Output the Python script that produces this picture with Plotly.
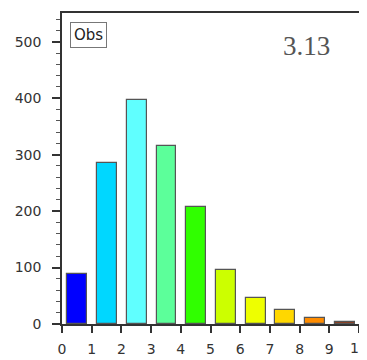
import plotly.graph_objects as go

bins = [0, 1, 2, 3, 4, 5, 6, 7, 8, 9]
counts = [88, 286, 397, 316, 208, 96, 46, 25, 10, 4]
colors = ["#0000ff", "#00d7ff", "#60ffff", "#5cff9a", "#30ff00",
          "#ccff00", "#eeff00", "#ffd700", "#ff8c00", "#9a3c18"]
x_tick_vals = [0, 1, 2, 3, 4, 5, 6, 7, 8, 9]
edge_tick_label = "10"
panel_label = "Obs"
panel_value = "3.13"

# page body has an 8px margin; compensate
W, H = 359, 352
L, R, T, B = 54, 6, 3, 34

fig = go.Figure()
fig.add_trace(go.Bar(
    x=[b + 0.52 for b in bins], y=counts, width=0.67,
    marker=dict(color=colors, line=dict(color="#555555", width=1.2)),
    showlegend=False, hoverinfo="skip"))
fig.add_trace(go.Scatter(x=[0], y=[0], yaxis="y2", mode="markers",
                         marker=dict(opacity=0), showlegend=False, hoverinfo="skip"))

font = dict(family="DejaVu Sans", size=14, color="#333333")
fig.update_layout(
    width=W, height=H, margin=dict(l=L, r=R, t=T, b=B),
    plot_bgcolor="white", paper_bgcolor="white", font=font,
    bargap=0,
    xaxis=dict(range=[0, 10], dtick=1, tick0=0, ticks="outside", ticklen=7,
               tickwidth=1.5, tickcolor="#333", showline=True, linecolor="#333",
               linewidth=1.5, mirror=True, showgrid=False, zeroline=False,
               tickfont=font, ticklabelstandoff=4),
    yaxis=dict(range=[0, 551], dtick=100, tick0=0, ticks="outside", ticklen=8,
               tickwidth=1.5, tickcolor="#333", showline=True, linecolor="#333",
               linewidth=1.5, showgrid=False, zeroline=False, tickfont=font,
               ticklabelstandoff=8,
               minor=dict(dtick=20, ticks="outside", ticklen=4, tickcolor="#555",
                          tickwidth=1, showgrid=False)),
    yaxis2=dict(range=[0, 3.733], dtick=1, tick0=0, overlaying="y", side="right",
                ticks="outside", ticklen=5, tickwidth=1.5, tickcolor="#333",
                showline=True, linecolor="#555", linewidth=2, showgrid=False,
                zeroline=False, showticklabels=False,
                minor=dict(dtick=0.5, ticks="outside", ticklen=3, tickcolor="#777",
                           tickwidth=1, showgrid=False)),
    annotations=[
        dict(text=panel_label, xref="paper", yref="paper", x=0.026, y=0.971,
             xanchor="left", yanchor="top", showarrow=False,
             font=dict(family="DejaVu Sans", size=15, color="#222"),
             bordercolor="#777", borderwidth=1, borderpad=3, bgcolor="white"),
        dict(text=panel_value, xref="paper", yref="paper", x=0.823, y=0.895,
             xanchor="center", yanchor="middle", showarrow=False,
             font=dict(family="Liberation Serif", size=27, color="#555")),
        dict(text=edge_tick_label, xref="x", yref="y", x=10, y=0,
             xanchor="center", yanchor="middle", yshift=-24, showarrow=False,
             font=font),
    ],
)
fig.write_html("out.html")
